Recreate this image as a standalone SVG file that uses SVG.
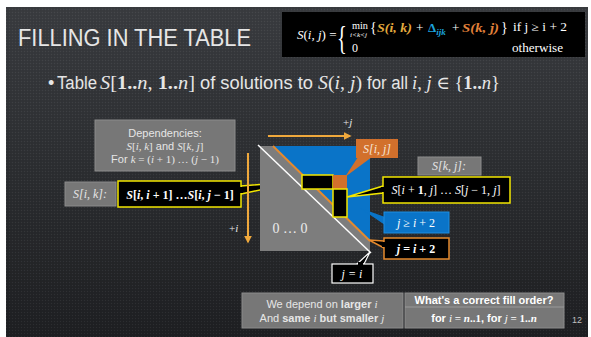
<svg xmlns="http://www.w3.org/2000/svg" width="591" height="337" viewBox="0 0 591 337">
<defs>
<linearGradient id="bg" x1="0" y1="0" x2="0" y2="1">
<stop offset="0" stop-color="#3a3c40"/>
<stop offset="0.5" stop-color="#2c2e31"/>
<stop offset="1" stop-color="#1e1f22"/>
</linearGradient>
<pattern id="dots" width="3" height="3" patternUnits="userSpaceOnUse">
<rect x="0" y="0" width="1" height="1" fill="#ffffff" fill-opacity="0.06"/>
<rect x="1.5" y="1.5" width="1" height="1" fill="#000000" fill-opacity="0.15"/>
</pattern>
<marker id="ah" viewBox="0 0 10 10" refX="8" refY="5" markerWidth="4" markerHeight="4" orient="auto">
<path d="M0,0 L10,5 L0,10 z" fill="#efa83c"/>
</marker>
<style>
.sans{font-family:"Liberation Sans","DejaVu Sans",sans-serif;}
.m{font-family:"Liberation Serif","DejaVu Serif",serif;font-style:italic;}
.r{font-family:"Liberation Serif","DejaVu Serif",serif;}
.lt{fill:#e6e6e6;}
.w{fill:#ffffff;}
.gbox{fill:#777777;stroke:#8c8c8c;stroke-width:1;}
.ybox{fill:#000000;stroke:#f2e600;stroke-width:1.5;}
.arr{stroke:#efa83c;stroke-width:2;fill:none;}
</style>
</defs>
<rect x="0" y="0" width="591" height="337" fill="#ffffff"/>
<rect x="6" y="7" width="582" height="330" fill="url(#bg)"/>
<rect x="6" y="7" width="582" height="330" fill="url(#dots)"/>

<g id="title">
<text x="18" y="46" class="sans lt" font-size="23" textLength="233" lengthAdjust="spacingAndGlyphs">FILLING IN THE TABLE</text>
</g>

<g id="formula">
<rect x="282" y="12" width="303" height="45" fill="#000000"/>
<text x="297" y="39" class="r w" font-size="13"><tspan class="m">S</tspan>(<tspan class="m">i</tspan>, <tspan class="m">j</tspan>) =</text>
<text x="337" y="49" class="r w" font-size="34" transform="translate(337 0) scale(0.6 1) translate(-337 0)">{</text>
<text x="352" y="29" class="r w" font-size="11" textLength="16" lengthAdjust="spacingAndGlyphs">min</text>
<text x="350" y="37" class="m w" font-size="7" textLength="17" lengthAdjust="spacingAndGlyphs">i&lt;k&lt;j</text>
<text x="370" y="32" class="r w" font-size="14">{</text>
<text x="377" y="32" class="m" font-size="13" font-weight="bold" fill="#e3aa3e" textLength="35" lengthAdjust="spacingAndGlyphs">S(i, k)</text>
<text x="416" y="32" class="r w" font-size="13">+</text>
<text x="428" y="32" class="r" font-size="13" font-weight="bold" fill="#1ca2db">Δ<tspan class="m" font-size="9" dy="3">ijk</tspan></text>
<text x="452" y="32" class="r w" font-size="13">+</text>
<text x="462" y="32" class="m" font-size="13" font-weight="bold" fill="#e2803a" textLength="37" lengthAdjust="spacingAndGlyphs">S(k, j)</text>
<text x="501" y="32" class="r w" font-size="14">}</text>
<text x="513" y="31" class="r w" font-size="12" textLength="54" lengthAdjust="spacingAndGlyphs">if j ≥ i + 2</text>
<text x="352" y="52" class="r w" font-size="12">0</text>
<text x="512" y="52" class="r w" font-size="12" textLength="51" lengthAdjust="spacingAndGlyphs">otherwise</text>
</g>

<g id="bullet">
<text x="48" y="89" class="sans lt" font-size="18">•</text>
<text x="57" y="89" class="sans lt" font-size="18" textLength="40" lengthAdjust="spacingAndGlyphs">Table</text>
<text x="100" y="89" class="r lt" font-size="18" textLength="95" lengthAdjust="spacingAndGlyphs"><tspan class="m">S</tspan>[<tspan font-weight="bold">1..</tspan><tspan class="m">n</tspan>, <tspan font-weight="bold">1..</tspan><tspan class="m">n</tspan>]</text>
<text x="200" y="89" class="sans lt" font-size="18" textLength="113" lengthAdjust="spacingAndGlyphs">of solutions to</text>
<text x="318" y="89" class="r lt" font-size="18" textLength="44" lengthAdjust="spacingAndGlyphs"><tspan class="m">S</tspan>(<tspan class="m">i</tspan>, <tspan class="m">j</tspan>)</text>
<text x="367" y="89" class="sans lt" font-size="18" textLength="41" lengthAdjust="spacingAndGlyphs">for all</text>
<text x="412" y="89" class="r lt" font-size="18" textLength="88" lengthAdjust="spacingAndGlyphs"><tspan class="m">i</tspan>, <tspan class="m">j</tspan> ∈ {<tspan font-weight="bold">1..</tspan><tspan class="m">n</tspan>}</text>
</g>

<g id="dependencies">
<rect x="95" y="120" width="140" height="51" class="gbox"/>
<text x="165" y="137" class="sans lt" font-size="11" text-anchor="middle">Dependencies:</text>
<text x="165" y="150" class="sans lt" font-size="11" text-anchor="middle"><tspan class="m">S</tspan><tspan class="r">[</tspan><tspan class="m">i, k</tspan><tspan class="r">]</tspan> and <tspan class="m">S</tspan><tspan class="r">[</tspan><tspan class="m">k, j</tspan><tspan class="r">]</tspan></text>
<text x="165" y="163" class="sans lt" font-size="11" text-anchor="middle">For <tspan class="m">k</tspan><tspan class="r"> = (</tspan><tspan class="m">i</tspan><tspan class="r"> + 1) … (</tspan><tspan class="m">j</tspan><tspan class="r"> − 1)</tspan></text>
</g>

<g id="sik-label">
<rect x="65" y="182" width="51" height="24" class="gbox"/>
<text x="90" y="198" class="m lt" font-size="12" text-anchor="middle">S[i, k]:</text>
</g>

<g id="sik-range">
<polygon points="241,186 302,181 241,194" class="ybox"/>
<rect x="118" y="181" width="123" height="26" class="ybox"/>
<rect x="239" y="187" width="4" height="6" fill="#000000"/>
<text x="180" y="199" class="r w" font-size="12" text-anchor="middle" font-weight="bold"><tspan class="m">S</tspan>[<tspan class="m">i</tspan>, <tspan class="m">i</tspan> + 1] …<tspan class="m">S</tspan>[<tspan class="m">i</tspan>, <tspan class="m">j</tspan> − 1]</text>
</g>

<g id="table">
<rect x="260" y="146" width="110" height="105" fill="#7d7d7d"/>
<polygon points="273,146 370,146 370,241" fill="#0a74c8"/>
<line x1="273" y1="146" x2="370" y2="241" stroke="#e58a2e" stroke-width="2"/>
<line x1="258" y1="145" x2="371" y2="253" stroke="#ffffff" stroke-width="1.5"/>
<text x="290" y="233" class="r" fill="#ececec" font-size="14" text-anchor="middle">0 … 0</text>
<rect x="302" y="175" width="31" height="14" class="ybox"/>
<rect x="333" y="175" width="14" height="14" fill="#d2702c"/>
<rect x="333" y="189" width="14" height="28" class="ybox"/>
</g>

<g id="sij">
<polygon points="358,157 372,157 345,177" fill="#d2702c"/>
<rect x="356" y="139" width="42" height="19" fill="#d2702c"/>
<text x="377" y="153" class="m" fill="#f6e6d8" font-size="12" text-anchor="middle">S[i, j]</text>
</g>

<g id="skj-label">
<rect x="418" y="157" width="63" height="18" class="gbox"/>
<text x="449" y="170" class="m lt" font-size="12" text-anchor="middle">S[k, j]:</text>
</g>

<g id="skj-range">
<polygon points="383,186 347,197 383,193" class="ybox"/>
<rect x="383" y="177" width="127" height="26" class="ybox"/>
<rect x="381" y="187" width="4" height="5" fill="#000000"/>
<text x="446" y="194" class="r w" font-size="12" text-anchor="middle"><tspan class="m">S</tspan>[<tspan class="m">i</tspan> + <tspan font-weight="bold">1</tspan>, <tspan class="m">j</tspan>] … <tspan class="m">S</tspan>[<tspan class="m">j</tspan> − 1, <tspan class="m">j</tspan>]</text>
</g>

<g id="jge">
<polygon points="385,217 360,208 385,225" fill="#0a74c8"/>
<rect x="384" y="212" width="65" height="21" fill="#0a74c8" stroke="#1f8ee0" stroke-width="1"/>
<text x="416" y="227" class="r w" font-size="12" text-anchor="middle"><tspan class="m">j</tspan> ≥ <tspan class="m">i</tspan> + 2</text>
</g>

<g id="jeq2">
<polygon points="384,241 369,240 384,248" fill="#000000" stroke="#e58a2e" stroke-width="1.5"/>
<rect x="384" y="238" width="65" height="21" fill="#000000" stroke="#e58a2e" stroke-width="1.5"/>
<rect x="382" y="242" width="4" height="5" fill="#000000"/>
<text x="416" y="253" class="r w" font-size="12" text-anchor="middle" font-weight="bold"><tspan class="m">j</tspan> = <tspan class="m">i</tspan> + 2</text>
</g>

<g id="jeq">
<polygon points="357,264 370,252 364,264" fill="#000000" stroke="#ffffff" stroke-width="1.2"/>
<rect x="332" y="264" width="41" height="19" fill="#000000" stroke="#ffffff" stroke-width="1.2"/>
<rect x="358" y="262" width="5" height="4" fill="#000000"/>
<text x="352" y="278" class="m w" font-size="12" text-anchor="middle">j = i</text>
</g>

<g id="connectors">
<line x1="268" y1="136" x2="350" y2="136" class="arr" marker-end="url(#ah)"/>
<line x1="248" y1="153" x2="248" y2="242" class="arr" marker-end="url(#ah)"/>
</g>
<g id="axis-labels">
<text x="343" y="126" class="r lt" font-size="11">+<tspan class="m">j</tspan></text>
<text x="229" y="232" class="r lt" font-size="11">+<tspan class="m">i</tspan></text>
</g>

<g id="depend-note">
<rect x="242" y="293" width="161" height="35" class="gbox"/>
<text x="322" y="308" class="sans lt" font-size="11" text-anchor="middle">We depend on <tspan font-weight="bold">larger </tspan><tspan class="m">i</tspan></text>
<text x="322" y="322" class="sans lt" font-size="11" text-anchor="middle">And <tspan font-weight="bold">same </tspan><tspan class="m">i</tspan><tspan font-weight="bold"> but smaller </tspan><tspan class="m">j</tspan></text>
</g>

<g id="fill-order">
<rect x="405" y="293" width="159" height="35" class="gbox"/>
<line x1="405" y1="307" x2="564" y2="307" stroke="#9a9a9a" stroke-width="1"/>
<text x="484" y="304" class="sans w" font-size="11" font-weight="bold" text-anchor="middle">What's a correct fill order?</text>
<text x="484" y="322" class="sans w" font-size="11" font-weight="bold" text-anchor="middle">for <tspan class="m" font-weight="normal">i</tspan><tspan class="r"> = </tspan><tspan class="m">n</tspan><tspan class="r">..1</tspan>, for <tspan class="m" font-weight="normal">j</tspan><tspan class="r"> = 1..</tspan><tspan class="m">n</tspan></text>
</g>

<g id="page">
<text x="577" y="323" class="sans" fill="#bfbfbf" font-size="9" text-anchor="middle">12</text>
</g>
</svg>
